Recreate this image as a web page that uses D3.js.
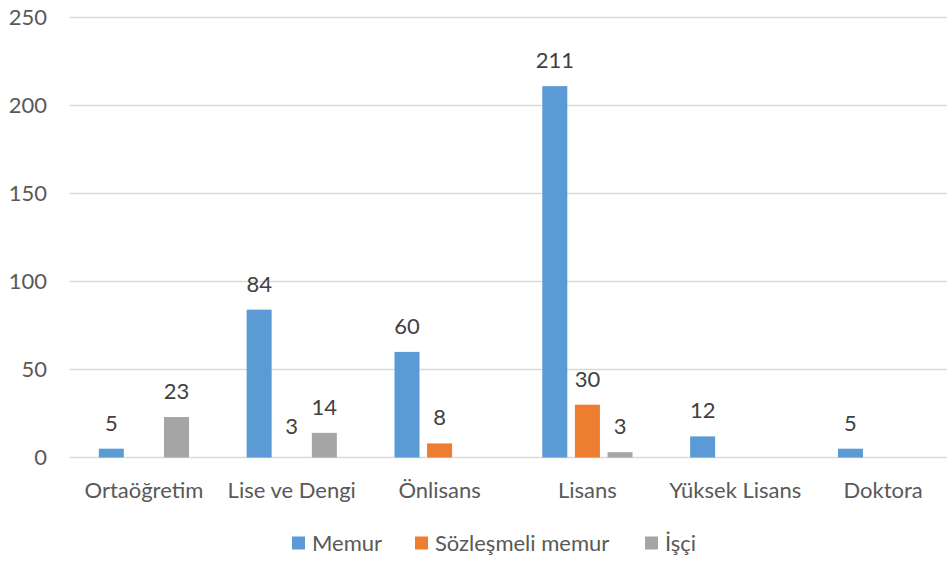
<!DOCTYPE html>
<html>
<head>
  <meta charset="utf-8">
  <title>Eğitim durumu</title>
  <style>
    body { margin: 0; background: #fff; font-family: Lato, "Open Sans", sans-serif; }
    svg text { fill: #595959; }
  </style>
  <script src="https://d3js.org/d3.v7.min.js"></script>
</head>
<body>
  <svg id="chart" width="947" height="563"></svg>
  <script>
    // data
    var categories = ["Ortaöğretim", "Lise ve Dengi", "Önlisans", "Lisans", "Yüksek Lisans", "Doktora"];
    var seriesNames = ["Memur", "Sözleşmeli memur", "İşçi"];
    var memur = [5, 84, 60, 211, 12, 5];
    var sozlesmeli = [null, 3, 8, 30, null, null];
    var isci = [23, 14, null, 3, null, null];
    var yTicks = [0, 50, 100, 150, 200, 250];
    var colors = ["#5B9BD5", "#ED7D31", "#A5A5A5"];

    var values = [memur, sozlesmeli, isci];

    var svg = d3.select("#chart");
    var margin = { top: 17.5, right: -10, bottom: 105.5, left: 70 },
      width = 947 - margin.left - margin.right,
      height = 563 - margin.top - margin.bottom;

    var g = svg.append("g")
      .attr("transform", "translate(" + margin.left + "," + margin.top + ")");

    var x0 = d3.scaleBand().domain(categories).range([0, width]);
    var group = 90.2;
    var x1 = d3.scaleBand().domain(seriesNames)
      .range([(x0.bandwidth() - group) / 2, (x0.bandwidth() + group) / 2])
      .paddingInner(0.233);
    var y = d3.scaleLinear().domain([0, 250]).range([height, 0]);

    // gridlines
    g.append("g").selectAll("line")
      .data(yTicks)
      .enter().append("line")
      .attr("x1", 0).attr("x2", width)
      .attr("y1", function (d) { return y(d); })
      .attr("y2", function (d) { return y(d); })
      .attr("stroke", "#d9d9d9")
      .attr("stroke-width", 1.5);

    // y labels
    g.append("g").selectAll("text")
      .data(yTicks)
      .enter().append("text")
      .attr("x", -23)
      .attr("y", function (d) { return y(d); })
      .attr("dy", "0.36em")
      .attr("text-anchor", "end")
      .style("font-size", "22px")
      .text(function (d) { return d; });

    // flatten points
    var points = [];
    categories.forEach(function (c, i) {
      seriesNames.forEach(function (s, j) {
        if (values[j][i] != null) points.push({ cat: c, ser: s, idx: j, value: values[j][i] });
      });
    });

    // bars (the Sözleşmeli bar of "Lise ve Dengi" is not visible in the original)
    g.append("g").selectAll("rect")
      .data(points)
      .enter().append("rect")
      .attr("x", function (d) { return x0(d.cat) + x1(d.ser); })
      .attr("y", function (d) { return y(d.value); })
      .attr("width", x1.bandwidth())
      .attr("height", function (d) { return height - y(d.value); })
      .attr("fill", function (d) {
        return (d.cat === "Lise ve Dengi" && d.idx === 1) ? "none" : colors[d.idx];
      });

    // value labels
    g.append("g").selectAll("text")
      .data(points)
      .enter().append("text")
      .attr("x", function (d) { return x0(d.cat) + x1(d.ser) + x1.bandwidth() / 2; })
      .attr("y", function (d) { return y(d.value) - 18; })
      .attr("text-anchor", "middle")
      .style("font-size", "22px")
      .style("fill", "#404040")
      .text(function (d) { return d.value; });

    // category labels
    g.append("g").selectAll("text")
      .data(categories)
      .enter().append("text")
      .attr("x", function (d) { return x0(d) + x0.bandwidth() / 2; })
      .attr("y", height + 40)
      .attr("text-anchor", "middle")
      .style("font-size", "22px")
      .text(function (d) { return d; });

    // legend
    var legendX = [292, 415, 645];
    var legend = svg.append("g").selectAll("g")
      .data(seriesNames)
      .enter().append("g")
      .attr("transform", function (d, i) { return "translate(" + legendX[i] + ",543)"; });
    legend.append("rect")
      .attr("x", 0).attr("y", -6.5)
      .attr("width", 13).attr("height", 13)
      .attr("fill", function (d, i) { return colors[i]; });
    legend.append("text")
      .attr("x", 20)
      .attr("dy", "0.36em")
      .style("font-size", "22px")
      .text(function (d) { return d; });
  </script>
</body>
</html>
